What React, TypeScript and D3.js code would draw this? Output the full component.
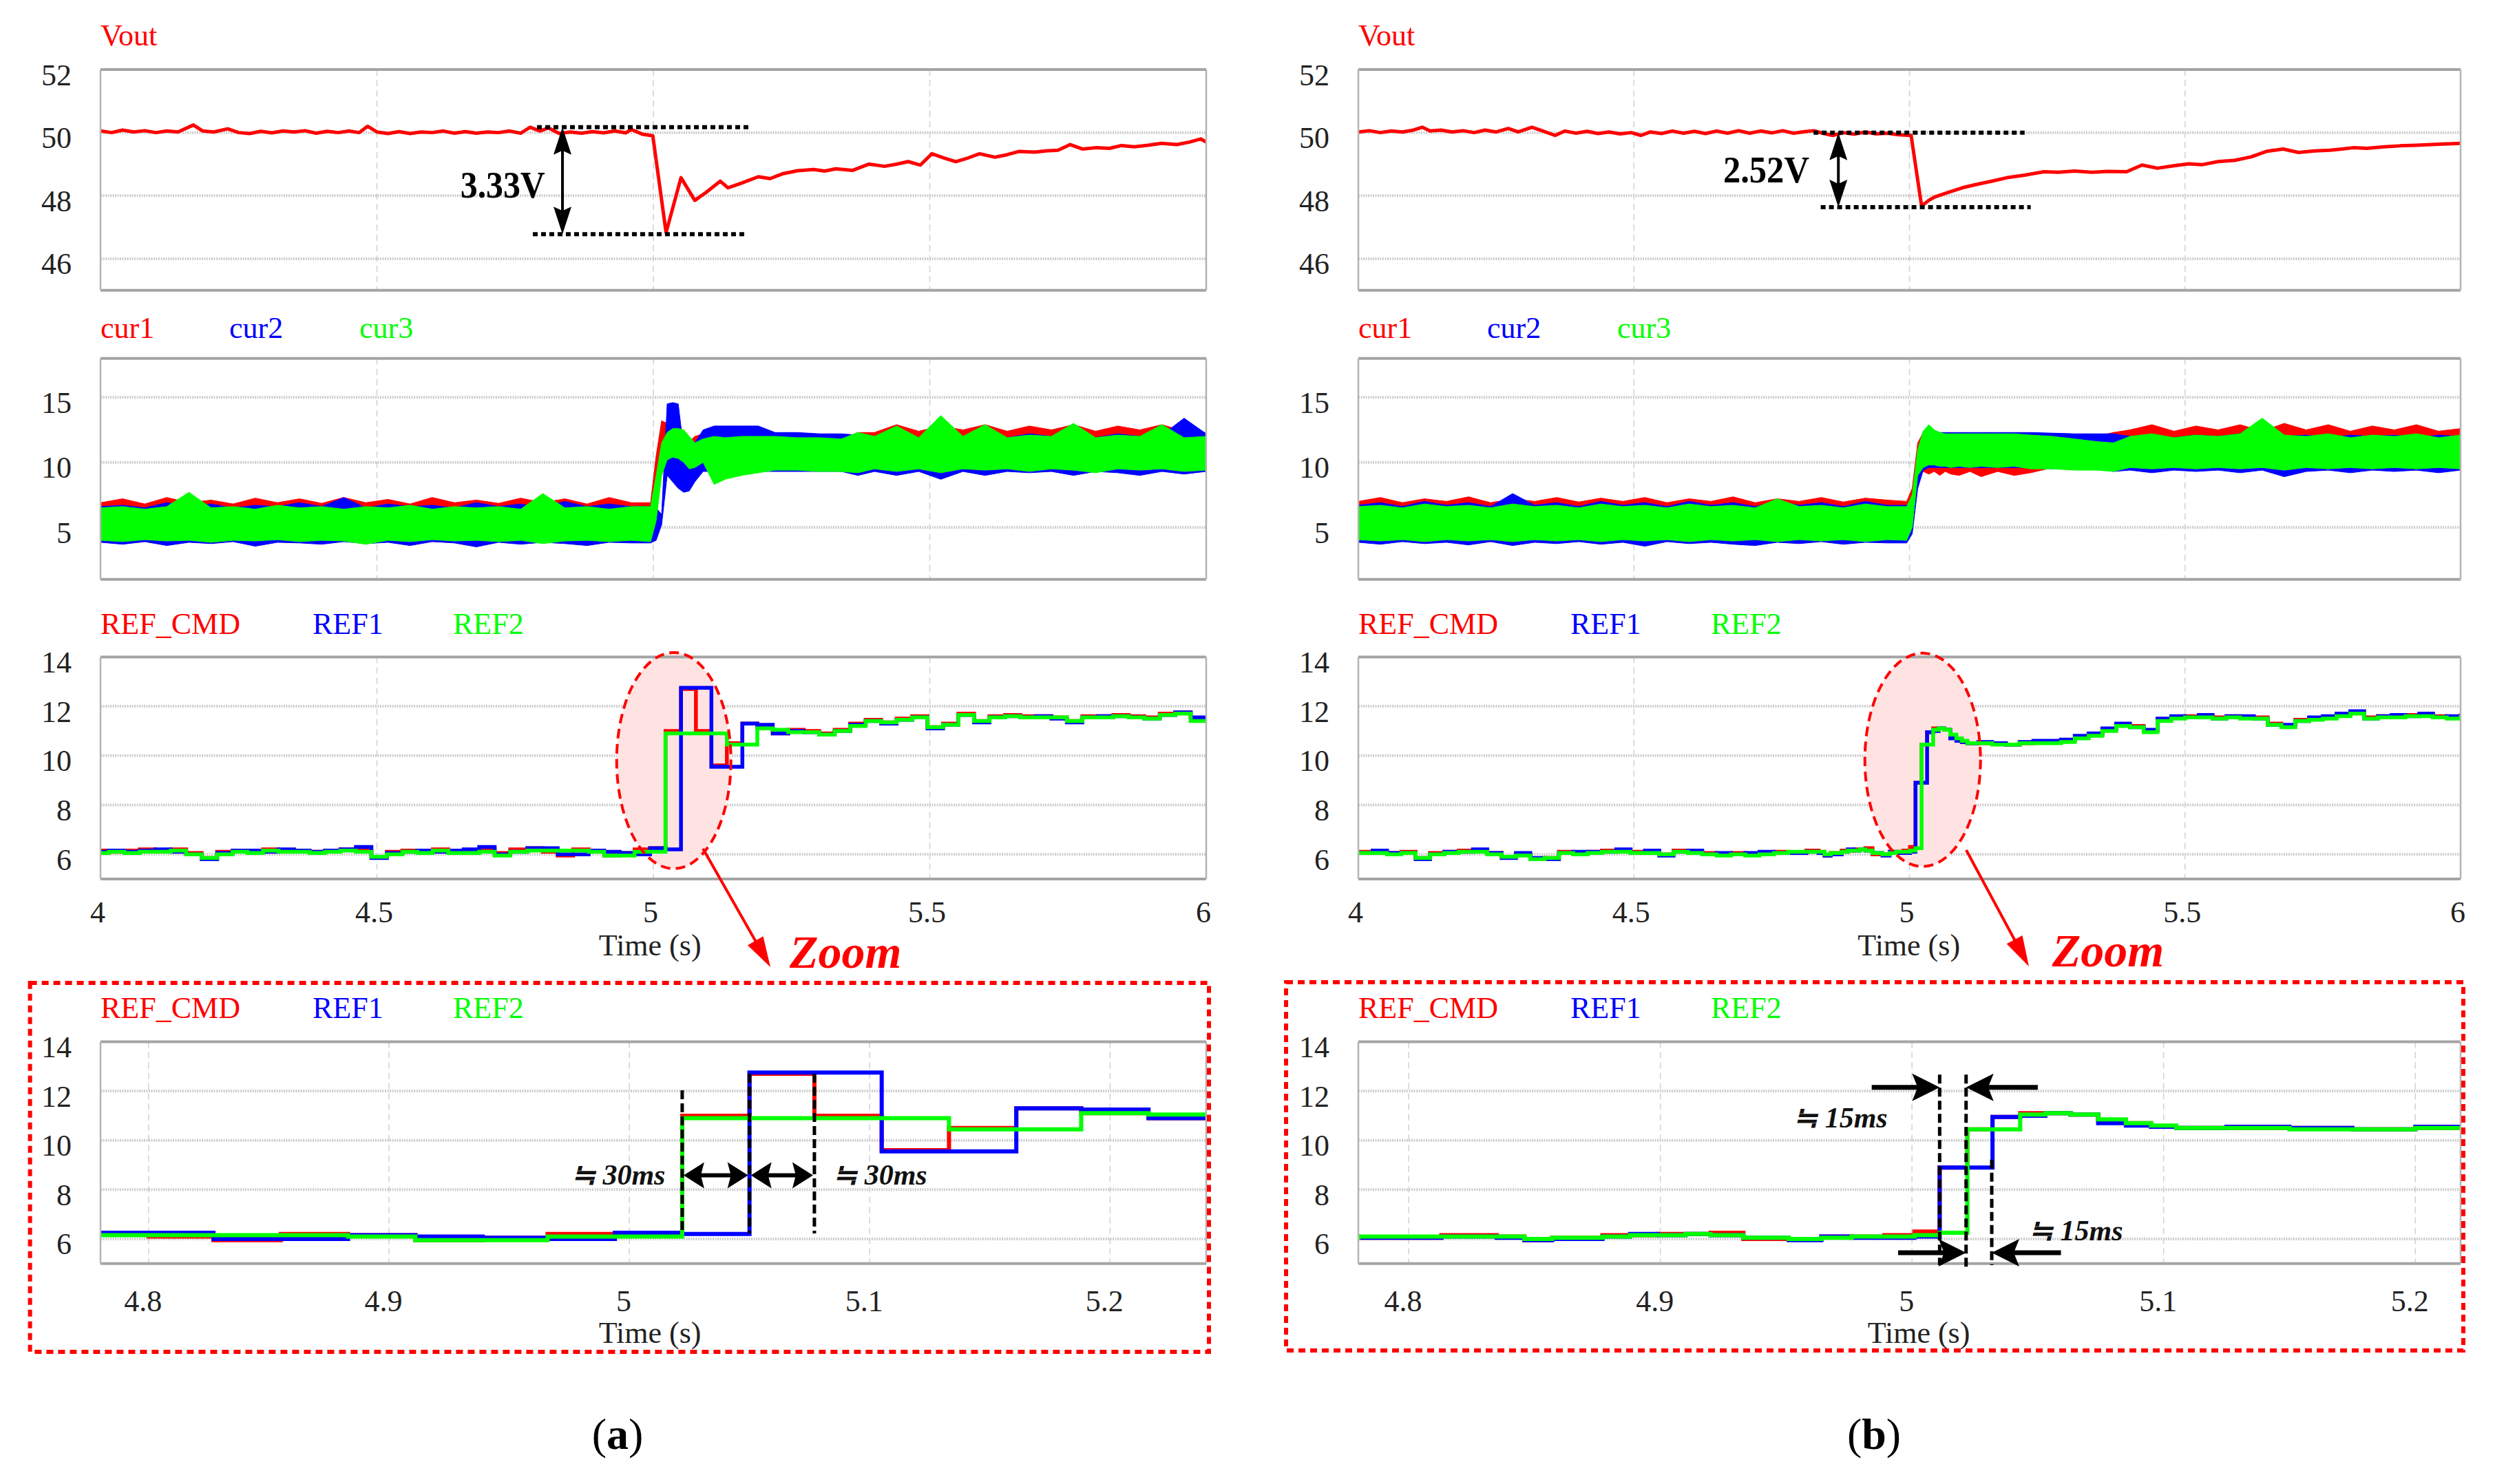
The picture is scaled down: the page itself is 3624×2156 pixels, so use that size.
import React from 'react';
import * as d3 from 'd3';

const FONT = '"Liberation Serif", "Times New Roman", Times, serif';
const RED = '#ff0000';
const BLUE = '#0000ff';
const GREEN = '#00ff00';

// ---------------- tick values ----------------
const MAIN_X_TICKS = [4, 4.5, 5, 5.5, 6];
const MAIN_X_LABELS = ['4', '4.5', '5', '5.5', '6'];
const ZOOM_X_TICKS = [4.8, 4.9, 5, 5.1, 5.2];
const ZOOM_X_LABELS = ['4.8', '4.9', '5', '5.1', '5.2'];
const VOUT_Y_TICKS = [46, 48, 50, 52];
const CUR_Y_TICKS = [5, 10, 15];
const REF_Y_TICKS = [6, 8, 10, 12, 14];

// ---------------- Vout ----------------
const VOUT_A_T = [4.000, 4.020, 4.040, 4.060, 4.080, 4.100, 4.120, 4.140, 4.168, 4.185,
  4.205, 4.230, 4.250, 4.270, 4.290, 4.310, 4.330, 4.350, 4.370, 4.390,
  4.410, 4.430, 4.450, 4.468, 4.483, 4.500, 4.520, 4.540, 4.560, 4.580,
  4.600, 4.620, 4.640, 4.660, 4.680, 4.700, 4.720, 4.740, 4.760, 4.777,
  4.795, 4.810, 4.830, 4.850, 4.870, 4.890, 4.910, 4.930, 4.950, 4.960,
  4.980, 4.999, 5.023, 5.050, 5.075, 5.095, 5.121, 5.135, 5.160, 5.190,
  5.211, 5.235, 5.261, 5.290, 5.310, 5.330, 5.360, 5.390, 5.418, 5.440,
  5.461, 5.483, 5.504, 5.525, 5.547, 5.570, 5.590, 5.618, 5.640, 5.661,
  5.690, 5.710, 5.732, 5.754, 5.776, 5.800, 5.825, 5.847, 5.870, 5.895,
  5.919, 5.947, 5.970, 5.990, 6.000];
const VOUT_A = [50.05, 50.00, 50.08, 50.02, 50.06, 50.00, 50.05, 50.02, 50.24, 50.05,
  50.02, 50.12, 50.00, 49.97, 50.04, 49.99, 50.05, 50.02, 50.06, 49.98,
  50.04, 50.00, 50.05, 50.00, 50.20, 50.02, 49.97, 50.03, 49.97, 50.02,
  50.00, 50.05, 49.98, 50.03, 49.98, 50.02, 50.00, 50.05, 49.98, 50.17,
  50.05, 50.15, 49.97, 50.02, 49.98, 50.03, 49.99, 50.05, 49.99, 50.10,
  49.95, 49.90, 46.83, 48.57, 47.85, 48.10, 48.46, 48.25, 48.40, 48.60,
  48.54, 48.70, 48.79, 48.83, 48.78, 48.85, 48.80, 49.00, 48.93, 49.00,
  49.08, 48.97, 49.33, 49.20, 49.08, 49.20, 49.33, 49.22, 49.30, 49.40,
  49.38, 49.42, 49.44, 49.62, 49.48, 49.52, 49.50, 49.59, 49.55, 49.60,
  49.66, 49.62, 49.70, 49.80, 49.70];

const VOUT_B_T = [4.000, 4.020, 4.040, 4.060, 4.080, 4.100, 4.116, 4.130, 4.150, 4.170,
  4.190, 4.210, 4.230, 4.250, 4.272, 4.290, 4.315, 4.335, 4.357, 4.375,
  4.395, 4.415, 4.435, 4.455, 4.475, 4.495, 4.513, 4.530, 4.550, 4.570,
  4.590, 4.610, 4.630, 4.650, 4.670, 4.690, 4.710, 4.730, 4.750, 4.770,
  4.790, 4.810, 4.826, 4.845, 4.861, 4.880, 4.900, 4.920, 4.940, 4.960,
  4.980, 5.003, 5.022, 5.035, 5.046, 5.070, 5.096, 5.120, 5.152, 5.180,
  5.209, 5.244, 5.270, 5.300, 5.330, 5.360, 5.394, 5.422, 5.450, 5.480,
  5.507, 5.530, 5.560, 5.590, 5.620, 5.649, 5.678, 5.706, 5.735, 5.763,
  5.785, 5.805, 5.830, 5.862, 5.890, 5.920, 5.947, 5.975, 6.000];
const VOUT_B = [50.02, 50.06, 50.00, 50.05, 50.02, 50.08, 50.17, 50.05, 50.08, 50.02,
  50.06, 50.00, 50.08, 50.02, 50.13, 50.02, 50.17, 50.05, 49.91, 50.05,
  49.98, 50.04, 49.97, 50.02, 49.96, 50.00, 49.91, 50.02, 49.97, 50.05,
  49.98, 50.04, 49.97, 50.05, 49.98, 50.06, 49.98, 50.05, 49.99, 50.06,
  49.98, 50.03, 50.06, 49.97, 49.91, 50.00, 49.95, 50.02, 49.96, 49.98,
  49.93, 49.91, 47.67, 47.85, 47.96, 48.10, 48.25, 48.35, 48.47, 48.58,
  48.65, 48.76, 48.74, 48.78, 48.74, 48.77, 48.76, 48.97, 48.87, 48.95,
  49.01, 48.98, 49.08, 49.12, 49.23, 49.41, 49.48, 49.37, 49.42, 49.44,
  49.48, 49.52, 49.50, 49.55, 49.58, 49.60, 49.62, 49.64, 49.66];

// ---------------- phase currents (ripple envelopes) ----------------
const CUR_T = [4.00, 4.04, 4.08, 4.12, 4.16, 4.20, 4.24, 4.28, 4.32, 4.36,
  4.40, 4.44, 4.48, 4.52, 4.56, 4.60, 4.64, 4.68, 4.72, 4.76,
  4.80, 4.84, 4.88, 4.92, 4.96,
  4.995, 5.005, 5.015, 5.025, 5.035, 5.045, 5.055, 5.065, 5.075,
  5.09, 5.11, 5.13, 5.16, 5.19, 5.22, 5.26, 5.30, 5.34, 5.37,
  5.40, 5.44, 5.48, 5.52, 5.56, 5.60, 5.64, 5.68, 5.72, 5.76, 5.80, 5.84, 5.88, 5.92, 5.96, 6.00];

const A_CUR1_HI = [6.9, 7.2, 6.8, 7.3, 6.9, 7.1, 6.8, 7.25, 6.9, 7.2, 6.85, 7.3, 6.9, 7.15, 6.8, 7.3, 6.9, 7.1, 6.85, 7.25, 6.9, 7.2, 6.8, 7.3, 6.9,
  6.9, 10.5, 13.2, 13.0, 12.5, 11.8, 11.5, 11.6, 12.0,
  12.2, 12.0, 11.9, 11.9, 11.9, 11.8, 11.8, 11.8, 11.8, 12.3,
  12.3, 12.9, 12.4, 12.8, 12.5, 12.9, 12.4, 12.8, 12.5, 12.9, 12.4, 12.8, 12.5, 12.9, 12.4, 12.3];
const A_CUR1_LO = [4.3, 4.2, 4.3, 4.2, 4.3, 4.2, 4.3, 4.2, 4.3, 4.2, 4.3, 4.2, 4.3, 4.2, 4.3, 4.2, 4.3, 4.2, 4.3, 4.2, 4.3, 4.2, 4.3, 4.2, 4.3,
  4.3, 6.0, 9.5, 10.0, 10.2, 10.0, 9.8, 9.5, 9.5,
  9.5, 9.6, 9.7, 9.7, 9.7, 9.7, 9.7, 9.7, 9.7, 9.7,
  9.7, 9.7, 9.7, 9.7, 9.7, 9.7, 9.7, 9.7, 9.7, 9.7, 9.7, 9.7, 9.7, 9.7, 9.7, 9.7];
const A_CUR2_HI = [6.6, 6.7, 6.5, 6.9, 6.6, 6.8, 6.5, 6.7, 6.6, 6.9, 6.6, 7.3, 6.5, 6.8, 6.6, 6.7, 6.5, 6.9, 6.6, 6.8, 6.5, 7.0, 6.6, 6.8, 6.6,
  6.6, 6.5, 6.0, 14.5, 14.6, 14.5, 11.0, 10.5, 11.5,
  12.5, 12.8, 12.8, 12.8, 12.8, 12.3, 12.3, 12.2, 12.2, 12.1,
  12.0, 12.2, 11.9, 12.2, 12.0, 12.1, 11.9, 12.2, 12.0, 12.1, 11.9, 12.2, 12.0, 12.1, 13.4, 12.2];
const A_CUR2_LO = [3.85, 3.7, 3.9, 3.6, 3.85, 3.75, 3.9, 3.55, 3.85, 3.8, 3.7, 3.9, 3.75, 3.85, 3.6, 3.9, 3.8, 3.5, 3.85, 3.7, 3.85, 3.75, 3.6, 3.85, 3.8,
  3.8, 4.0, 5.2, 9.0, 8.5, 8.0, 7.7, 7.8, 8.5,
  9.3, 9.3, 9.3, 9.3, 9.3, 9.3, 9.3, 9.3, 9.3, 9.0,
  9.3, 9.0, 9.3, 8.7, 9.3, 9.0, 9.3, 9.2, 9.3, 9.0, 9.3, 9.2, 9.0, 9.3, 9.1, 9.3];
const A_CUR3_HI = [6.5, 6.6, 6.4, 6.6, 7.7, 6.5, 6.6, 6.4, 6.7, 6.5, 6.6, 6.4, 6.6, 6.5, 6.7, 6.4, 6.6, 6.5, 6.6, 6.4, 7.6, 6.5, 6.6, 6.4, 6.6,
  6.6, 9.0, 11.5, 12.3, 12.6, 12.6, 12.5, 12.0, 11.5,
  11.8, 12.0, 11.9, 12.0, 12.0, 12.0, 11.9, 11.9, 11.8, 12.3,
  12.0, 12.8, 11.9, 13.6, 12.0, 12.9, 11.9, 12.1, 12.0, 13.0, 11.9, 12.1, 12.0, 12.9, 11.9, 12.0];
const A_CUR3_LO = [4.0, 3.9, 4.05, 3.95, 4.0, 3.85, 4.0, 3.95, 4.05, 3.9, 4.0, 3.95, 3.7, 4.0, 3.9, 4.05, 3.95, 4.0, 3.9, 4.0, 3.75, 3.95, 4.0, 3.9, 4.0,
  3.9, 5.5, 9.0, 10.2, 10.4, 10.3, 10.0, 9.5, 9.6,
  10.0, 8.3, 8.7, 9.0, 9.2, 9.4, 9.4, 9.3, 9.3, 9.2,
  9.5, 9.3, 9.5, 9.2, 9.5, 9.4, 9.5, 9.3, 9.5, 9.4, 9.2, 9.5, 9.4, 9.5, 9.3, 9.4];

const B_CUR1_HI = [7.0, 7.3, 6.9, 7.2, 7.0, 7.35, 6.9, 7.2, 7.0, 7.3, 6.95, 7.25, 7.0, 7.3, 6.9, 7.2, 7.0, 7.35, 6.9, 7.2, 7.0, 7.3, 6.95, 7.25, 7.1,
  7.0, 8.0, 11.5, 12.3, 12.5, 12.4, 12.3, 12.2, 12.2,
  12.2, 12.1, 12.1, 12.1, 12.0, 12.0, 12.0, 12.0, 12.0, 12.3,
  12.5, 12.9, 12.4, 12.8, 12.5, 12.9, 12.4, 13.0, 12.5, 12.9, 12.4, 12.8, 12.5, 12.9, 12.4, 12.6];
const B_CUR1_LO = [4.3, 4.2, 4.3, 4.2, 4.3, 4.2, 4.3, 4.2, 4.3, 4.2, 4.3, 4.2, 4.3, 4.2, 4.3, 4.2, 4.3, 4.2, 4.3, 4.2, 4.3, 4.2, 4.3, 4.2, 4.3,
  4.3, 5.0, 9.0, 9.3, 9.1, 9.3, 9.0, 9.3, 9.1,
  9.0, 9.3, 8.9, 9.3, 9.0, 9.2, 9.6, 9.6, 9.6, 9.6,
  9.7, 9.7, 9.7, 9.7, 9.7, 9.7, 9.7, 9.7, 9.7, 9.7, 9.7, 9.7, 9.7, 9.7, 9.7, 9.7];
const B_CUR2_HI = [6.7, 6.9, 6.6, 7.0, 6.7, 6.9, 6.6, 7.6, 6.7, 6.9, 6.6, 7.0, 6.7, 6.9, 6.6, 7.0, 6.7, 6.9, 6.6, 7.0, 6.7, 6.9, 6.6, 7.0, 6.7,
  6.7, 7.0, 10.0, 12.4, 12.5, 12.4, 12.3, 12.3, 12.3,
  12.3, 12.3, 12.3, 12.3, 12.3, 12.3, 12.25, 12.2, 12.2, 12.2,
  12.0, 12.1, 11.9, 12.1, 12.0, 12.2, 13.2, 12.0, 12.1, 11.9, 12.1, 12.0, 12.1, 11.9, 12.1, 12.0];
const B_CUR2_LO = [3.85, 3.7, 3.9, 3.75, 3.85, 3.65, 3.9, 3.6, 3.85, 3.75, 3.9, 3.7, 3.85, 3.55, 3.9, 3.75, 3.85, 3.7, 3.6, 3.85, 3.75, 3.9, 3.7, 3.85, 3.8,
  3.8, 4.5, 8.0, 9.4, 9.6, 9.6, 9.6, 9.6, 9.6,
  9.6, 9.6, 9.6, 9.6, 9.6, 9.6, 9.5, 9.5, 9.5, 9.3,
  9.4, 9.2, 9.4, 9.3, 9.4, 9.2, 9.4, 8.9, 9.3, 9.4, 9.2, 9.4, 9.3, 9.4, 9.2, 9.4];
const B_CUR3_HI = [6.6, 6.7, 6.5, 6.8, 6.6, 6.7, 6.5, 6.8, 6.6, 6.7, 6.5, 6.8, 6.6, 6.7, 6.5, 6.8, 6.6, 6.7, 6.5, 7.2, 6.6, 6.7, 6.5, 6.8, 6.6,
  6.6, 7.5, 11.0, 12.4, 12.9, 12.5, 12.3, 12.2, 12.2,
  12.2, 12.2, 12.2, 12.2, 12.2, 12.1, 12.0, 11.8, 11.6, 11.5,
  12.0, 12.2, 11.9, 12.1, 12.0, 12.2, 13.4, 12.1, 12.0, 12.2, 11.9, 12.1, 12.0, 12.2, 11.9, 12.1];
const B_CUR3_LO = [4.05, 3.95, 4.05, 3.9, 4.05, 3.95, 4.05, 3.9, 4.05, 3.95, 4.05, 3.9, 4.05, 3.95, 4.05, 3.9, 4.05, 3.95, 4.05, 3.9, 4.05, 3.95, 4.05, 3.9, 4.05,
  4.0, 5.0, 9.0, 9.6, 9.8, 9.8, 9.7, 9.7, 9.6,
  9.7, 9.6, 9.7, 9.6, 9.7, 9.5, 9.5, 9.4, 9.4, 9.3,
  9.6, 9.5, 9.6, 9.5, 9.6, 9.5, 9.6, 9.4, 9.6, 9.5, 9.6, 9.5, 9.6, 9.5, 9.6, 9.5];

// ---------------- current references (sampled, step) ----------------
const REF_T_A = [4.000, 4.015, 4.043, 4.071, 4.099, 4.127, 4.155, 4.183, 4.211, 4.239,
  4.266, 4.294, 4.322, 4.350, 4.378, 4.406, 4.434, 4.462, 4.490, 4.518,
  4.546, 4.573, 4.601, 4.629, 4.657, 4.685, 4.713, 4.741,
  4.772, 4.800, 4.827, 4.855, 4.883, 4.911, 4.939, 4.966, 4.994,
  5.022, 5.050, 5.077, 5.105, 5.133, 5.161, 5.188, 5.216,
  5.244, 5.272, 5.300, 5.328, 5.356, 5.384, 5.412, 5.440, 5.468, 5.496,
  5.524, 5.552, 5.580, 5.608, 5.636, 5.664, 5.692, 5.720, 5.748, 5.776,
  5.804, 5.832, 5.860, 5.888, 5.916, 5.944, 5.972, 6.000];
const A_REF_CMD = [6.15, 6.1, 6.15, 6.2, 6.15, 6.2, 6.05, 5.85, 6.1, 6.15,
  6.1, 6.2, 6.15, 6.15, 6.1, 6.15, 6.2, 6.15, 5.9, 6.1,
  6.15, 6.1, 6.2, 6.1, 6.1, 6.2, 6.05, 6.2,
  6.25, 6.1, 5.95, 6.2, 6.15, 5.95, 6.05, 6.2, 6.25,
  11.0, 12.7, 11.0, 9.6, 10.5, 11.3, 11.1, 10.9,
  11.05, 11.0, 10.9, 11.05, 11.3, 11.45, 11.35, 11.5, 11.6, 11.15,
  11.3, 11.7, 11.4, 11.6, 11.65, 11.6, 11.6, 11.55, 11.4, 11.6,
  11.6, 11.65, 11.6, 11.55, 11.7, 11.75, 11.45, 11.45];
const A_REF1 = [6.1, 6.15, 6.1, 6.15, 6.2, 6.1, 6.0, 5.8, 6.05, 6.15,
  6.15, 6.1, 6.2, 6.15, 6.1, 6.15, 6.2, 6.3, 5.85, 6.05,
  6.1, 6.15, 6.1, 6.15, 6.2, 6.3, 6.0, 6.1,
  6.25, 6.25, 6.0, 6.0, 6.15, 6.1, 6.05, 6.0, 6.25,
  6.2, 12.75, 12.75, 9.55, 9.55, 11.3, 11.25, 10.9,
  11.0, 10.95, 10.85, 11.0, 11.25, 11.4, 11.3, 11.45, 11.55, 11.1,
  11.25, 11.65, 11.35, 11.55, 11.6, 11.55, 11.6, 11.5, 11.35, 11.55,
  11.6, 11.6, 11.55, 11.5, 11.65, 11.75, 11.55, 11.55];
const A_REF2 = [6.05, 6.1, 6.05, 6.1, 6.1, 6.15, 6.0, 5.85, 6.0, 6.1,
  6.05, 6.15, 6.1, 6.1, 6.05, 6.1, 6.15, 6.1, 5.9, 6.0,
  6.1, 6.05, 6.15, 6.05, 6.05, 6.1, 5.95, 6.1,
  6.15, 6.15, 6.15, 6.15, 6.1, 5.95, 5.95, 6.1, 6.1,
  10.9, 10.9, 10.9, 10.9, 10.45, 10.45, 11.1, 11.05,
  10.95, 10.95, 10.85, 11.0, 11.2, 11.4, 11.35, 11.45, 11.55, 11.15,
  11.25, 11.65, 11.4, 11.55, 11.6, 11.55, 11.55, 11.55, 11.4, 11.55,
  11.55, 11.6, 11.55, 11.5, 11.65, 11.7, 11.4, 11.4];

const REF_T_B = [4.000, 4.026, 4.052, 4.078, 4.104, 4.130, 4.156, 4.182, 4.208, 4.234,
  4.260, 4.286, 4.312, 4.338, 4.364, 4.390, 4.416, 4.442, 4.468, 4.494,
  4.520, 4.546, 4.572, 4.598, 4.624, 4.650, 4.676, 4.702, 4.728, 4.754,
  4.780, 4.813, 4.835, 4.846, 4.857, 4.877, 4.888, 4.899, 4.910, 4.920,
  4.933, 4.951, 4.964, 4.976, 4.989, 5.001, 5.011, 5.022, 5.032, 5.043,
  5.053, 5.063, 5.074, 5.085, 5.095, 5.105, 5.125, 5.150, 5.175, 5.200,
  5.225, 5.250, 5.275, 5.300, 5.325, 5.350, 5.375, 5.400, 5.425, 5.450,
  5.475, 5.500, 5.525, 5.550, 5.575, 5.600, 5.625, 5.650, 5.675, 5.700,
  5.725, 5.750, 5.775, 5.800, 5.825, 5.850, 5.875, 5.900, 5.925, 5.950,
  5.975, 6.000];
const B_REF_CMD = [6.1, 6.1, 6.05, 6.1, 5.85, 6.05, 6.1, 6.15, 6.15, 6.05,
  5.9, 6.0, 5.8, 5.85, 6.1, 6.05, 6.1, 6.15, 6.15, 6.1,
  6.1, 6.0, 6.15, 6.1, 6.05, 6.0, 6.05, 6.0, 6.05, 6.1,
  6.05, 6.15, 6.1, 5.95, 6.05, 6.15, 6.15, 6.2, 6.2, 6.25,
  6.0, 6.0, 6.1, 6.1, 6.15, 6.3, 8.9, 10.45, 10.95, 11.1,
  11.1, 11.05, 10.8, 10.7, 10.55, 10.5, 10.5, 10.5, 10.45, 10.5,
  10.55, 10.55, 10.6, 10.75, 10.85, 11.05, 11.25, 11.2, 11.0, 11.45,
  11.55, 11.6, 11.6, 11.55, 11.6, 11.55, 11.55, 11.3, 11.2, 11.45,
  11.5, 11.55, 11.65, 11.75, 11.55, 11.6, 11.6, 11.65, 11.65, 11.6,
  11.55, 11.7];
const B_REF1 = [6.05, 6.15, 6.05, 6.05, 5.8, 6.0, 6.1, 6.1, 6.2, 6.05,
  5.85, 6.05, 5.85, 5.8, 6.05, 6.1, 6.1, 6.1, 6.2, 6.05,
  6.15, 5.95, 6.1, 6.15, 6.0, 6.05, 6.0, 6.05, 6.1, 6.05,
  6.05, 6.1, 6.05, 5.95, 6.0, 6.1, 6.2, 6.15, 6.2, 6.15,
  6.05, 5.95, 6.1, 6.05, 6.05, 6.1, 8.9, 8.9, 10.95, 11.0,
  11.1, 11.05, 10.7, 10.6, 10.55, 10.5, 10.55, 10.5, 10.45, 10.55,
  10.6, 10.6, 10.65, 10.8, 10.9, 11.1, 11.3, 11.15, 11.05, 11.5,
  11.6, 11.55, 11.65, 11.5, 11.6, 11.6, 11.5, 11.25, 11.25, 11.4,
  11.55, 11.6, 11.7, 11.8, 11.5, 11.6, 11.65, 11.6, 11.7, 11.55,
  11.6, 11.65];
const B_REF2 = [6.05, 6.05, 6.0, 6.05, 5.85, 6.0, 6.05, 6.1, 6.1, 6.0,
  5.9, 5.95, 5.8, 5.85, 6.05, 6.0, 6.05, 6.1, 6.1, 6.05,
  6.05, 6.0, 6.1, 6.05, 6.0, 5.95, 6.0, 5.95, 6.0, 6.05,
  6.1, 6.1, 6.1, 6.0, 6.05, 6.1, 6.15, 6.15, 6.2, 6.15,
  6.05, 6.0, 6.05, 6.1, 6.1, 6.15, 6.25, 10.45, 10.45, 11.05,
  11.1, 11.05, 10.85, 10.7, 10.6, 10.5, 10.5, 10.45, 10.45, 10.5,
  10.5, 10.5, 10.55, 10.7, 10.8, 11.0, 11.2, 11.15, 10.95, 11.4,
  11.5, 11.55, 11.55, 11.5, 11.55, 11.5, 11.5, 11.25, 11.15, 11.4,
  11.45, 11.5, 11.6, 11.7, 11.5, 11.55, 11.55, 11.6, 11.6, 11.55,
  11.5, 11.65];

// ---------------- per-case configuration ----------------
const CASES = [
  {
    key: 'a', x0: 146, x1: 1752, zoomDomain: [4.78, 5.24],
    box: [43.6, 1756, 1428, 1964],
    voutT: VOUT_A_T, vout: VOUT_A,
    cur: [
      { color: RED, hi: A_CUR1_HI, lo: A_CUR1_LO },
      { color: BLUE, hi: A_CUR2_HI, lo: A_CUR2_LO },
      { color: GREEN, hi: A_CUR3_HI, lo: A_CUR3_LO },
    ],
    refT: REF_T_A,
    ref: [{ color: RED, v: A_REF_CMD }, { color: BLUE, v: A_REF1 }, { color: GREEN, v: A_REF2 }],
    drop: { label: '3.33V', vTop: 50.17, vBot: 46.78, top: [4.7895, 5.1756], bot: [4.782, 5.168], arrowT: 4.8356, textT: 4.651, textV: 47.94, textLen: 123 },
    ellipse: { t: 5.037, v: 9.8, rx: 83, ry: 157 },
    pointer: { from: [5.0897, 6.23], to: [5.2117, 1.43], text: [5.2466, 1.39] },
    timeLabelT: 4.994, zoomTimeLabelT: 5.0086,
    label: 'a', labelX: 897,
  },
  {
    key: 'b', x0: 1973, x1: 3574, zoomDomain: [4.78, 5.218],
    box: [1868, 3578, 1427, 1962],
    voutT: VOUT_B_T, vout: VOUT_B,
    cur: [
      { color: RED, hi: B_CUR1_HI, lo: B_CUR1_LO },
      { color: BLUE, hi: B_CUR2_HI, lo: B_CUR2_LO },
      { color: GREEN, hi: B_CUR3_HI, lo: B_CUR3_LO },
    ],
    refT: REF_T_B,
    ref: [{ color: RED, v: B_REF_CMD }, { color: BLUE, v: B_REF1 }, { color: GREEN, v: B_REF2 }],
    drop: { label: '2.52V', vTop: 50.0, vBot: 47.635, top: [4.826, 5.209], bot: [4.839, 5.22], arrowT: 4.871, textT: 4.662, textV: 48.42, textLen: 125 },
    ellipse: { t: 5.024, v: 9.83, rx: 84, ry: 155 },
    pointer: { from: [5.103, 6.17], to: [5.2167, 1.46], text: [5.259, 1.45] },
    timeLabelT: 4.999, zoomTimeLabelT: 5.0027,
    label: 'b', labelX: 2722,
  },
];

// zoom-panel timing annotations
const ZOOM_MARKS_A = {
  lines: [{ t: 5.022, top: 12.03, bot: 6.22 }, { t: 5.050, top: 12.7, bot: 6.22 }, { t: 5.077, top: 12.7, bot: 6.22 }],
  doubleArrows: [{ t0: 5.022, t1: 5.050, v: 8.58 }, { t0: 5.050, t1: 5.077, v: 8.58 }],
  singleArrows: [],
  texts: [{ s: '≒ 30ms', t: 5.015, v: 8.2, anchor: 'end' }, { s: '≒ 30ms', t: 5.0848, v: 8.2, anchor: 'start' }],
};
const ZOOM_MARKS_B = {
  lines: [{ t: 5.011, top: 12.67, bot: 4.94 }, { t: 5.0215, top: 12.67, bot: 4.83 }, { t: 5.0317, top: 9.22, bot: 4.94 }],
  doubleArrows: [],
  singleArrows: [
    { from: 4.984, to: 5.011, v: 12.15 }, { from: 5.050, to: 5.0215, v: 12.15 },
    { from: 4.9945, to: 5.0215, v: 5.44 }, { from: 5.0592, to: 5.0317, v: 5.44 },
  ],
  texts: [{ s: '≒ 15ms', t: 4.9903, v: 10.52, anchor: 'end' }, { s: '≒ 15ms', t: 5.0465, v: 5.94, anchor: 'start' }],
};

// ---------------- helpers ----------------
function head(tx: number, ty: number, ux: number, uy: number, len: number, half: number, notch = 0) {
  const bx = tx - ux * len, by = ty - uy * len;
  const px = -uy, py = ux;
  const nx = bx + ux * notch, ny = by + uy * notch;
  return `M${tx},${ty}L${bx + px * half},${by + py * half}L${nx},${ny}L${bx - px * half},${by - py * half}Z`;
}

function Panel({ id, x, y, hGrid, vGrid, yTicks, children, under }: any) {
  const [x0, x1] = x.range();
  const [yb, yt] = y.range();
  return (
    <g>
      <defs>
        <clipPath id={id}><rect x={x0} y={yt} width={x1 - x0} height={yb - yt} /></clipPath>
      </defs>
      {vGrid.map((v: number) => (
        <line key={'v' + v} x1={x(v)} x2={x(v)} y1={yt} y2={yb} stroke="#d4d4d4" strokeWidth={1.6} strokeDasharray="9 6" />
      ))}
      {hGrid.map((v: number) => (
        <line key={'h' + v} x1={x0} x2={x1} y1={y(v)} y2={y(v)} stroke="#cdcdcd" strokeWidth={4} strokeDasharray="2 1.5" />
      ))}
      {under}
      <g clipPath={`url(#${id})`}>{children}</g>
      <line x1={x0} x2={x1} y1={yt} y2={yt} stroke="#a4a4a4" strokeWidth={4} />
      <line x1={x0} x2={x1} y1={yb} y2={yb} stroke="#a4a4a4" strokeWidth={4} />
      <line x1={x0} x2={x0} y1={yt} y2={yb} stroke="#b4b4b4" strokeWidth={2.5} />
      <line x1={x1} x2={x1} y1={yt} y2={yb} stroke="#b4b4b4" strokeWidth={2.5} />
      {yTicks.map((v: number) => (
        <text key={'t' + v} x={x0 - 42} y={y(v) + 8} textAnchor="end" dominantBaseline="central" fontSize={44} fill="#222">{v}</text>
      ))}
    </g>
  );
}

function Legend({ x0, y, items }: any) {
  return (
    <g>
      {items.map((it: any) => (
        <text key={it.label} x={x0 + it.dx} y={y} dominantBaseline="central" fontSize={44} fill={it.color}>{it.label}</text>
      ))}
    </g>
  );
}

const CUR_LEGEND = [{ label: 'cur1', color: RED, dx: 0 }, { label: 'cur2', color: BLUE, dx: 187 }, { label: 'cur3', color: GREEN, dx: 376 }];
const REF_LEGEND = [{ label: 'REF_CMD', color: RED, dx: 0 }, { label: 'REF1', color: BLUE, dx: 308 }, { label: 'REF2', color: GREEN, dx: 512 }];

function Column({ c }: any) {
  const xMain = d3.scaleLinear().domain([4, 6]).range([c.x0, c.x1]);
  const xZoom = d3.scaleLinear().domain(c.zoomDomain).range([c.x0, c.x1]);
  const yV = d3.scaleLinear().domain([45, 52]).range([421.7, 101]);
  const yC = d3.scaleLinear().domain([1, 18]).range([841.7, 520.7]);
  const yR = d3.scaleLinear().domain([5, 14]).range([1277, 954.4]);
  const yZ = d3.scaleLinear().domain([5, 14]).range([1835.8, 1513.5]);

  const voutPath = d3.line<number>().x((_, i) => xMain(c.voutT[i])).y(d => yV(d))(c.vout) as string;
  const curPaths = c.cur.map((s: any) => ({
    color: s.color,
    d: d3.area<number>().x((_, i) => xMain(CUR_T[i])).y0((_, i) => yC(s.lo[i])).y1(d => yC(d))(s.hi) as string,
  }));
  const refPath = (xs: any, ys: any, vals: number[]) =>
    d3.line<number>().x((_, i) => xs(c.refT[i])).y(d => ys(d)).curve(d3.curveStepAfter)(vals) as string;

  const dr = c.drop;
  const ax = xMain(dr.arrowT);
  const aTop = yV(dr.vTop), aBot = yV(dr.vBot);
  const el = c.ellipse;
  const ex = xMain(el.t), ey = yR(el.v);
  const p0 = [xMain(c.pointer.from[0]), yR(c.pointer.from[1])];
  const p1 = [xMain(c.pointer.to[0]), yR(c.pointer.to[1])];
  const plen = Math.hypot(p1[0] - p0[0], p1[1] - p0[1]);
  const pu = [(p1[0] - p0[0]) / plen, (p1[1] - p0[1]) / plen];
  const marks = c.key === 'a' ? ZOOM_MARKS_A : ZOOM_MARKS_B;

  return (
    <g>
      {/* ---- Vout ---- */}
      <Legend x0={c.x0} y={51} items={[{ label: 'Vout', color: RED, dx: 0 }]} />
      <Panel id={'clipV' + c.key} x={xMain} y={yV} hGrid={[46, 48, 50]} vGrid={[4.5, 5, 5.5]} yTicks={VOUT_Y_TICKS}>
        <path d={voutPath} fill="none" stroke={RED} strokeWidth={5} strokeLinejoin="round" />
      </Panel>
      <line x1={xMain(dr.top[0])} x2={xMain(dr.top[1])} y1={aTop} y2={aTop} stroke="#000" strokeWidth={6} strokeDasharray="7 5" />
      <line x1={xMain(dr.bot[0])} x2={xMain(dr.bot[1])} y1={aBot} y2={aBot} stroke="#000" strokeWidth={6} strokeDasharray="7 5" />
      <line x1={ax} x2={ax} y1={aTop + 30} y2={aBot - 30} stroke="#000" strokeWidth={4} />
      <path d={head(ax, aTop, 0, -1, 40, 13, 6)} fill="#000" />
      <path d={head(ax, aBot, 0, 1, 40, 13, 6)} fill="#000" />
      <text x={xMain(dr.textT)} y={yV(dr.textV)} fontSize={54} fontWeight="bold" fill="#000" textLength={dr.textLen} lengthAdjust="spacingAndGlyphs">{dr.label}</text>

      {/* ---- currents ---- */}
      <Legend x0={c.x0} y={476} items={CUR_LEGEND} />
      <Panel id={'clipC' + c.key} x={xMain} y={yC} hGrid={[5, 10, 15]} vGrid={[4.5, 5, 5.5]} yTicks={CUR_Y_TICKS}>
        {curPaths.map((p: any) => <path key={p.color} d={p.d} fill={p.color} stroke={p.color} strokeWidth={1} strokeLinejoin="round" />)}
      </Panel>

      {/* ---- references ---- */}
      <Legend x0={c.x0} y={906} items={REF_LEGEND} />
      <Panel id={'clipR' + c.key} x={xMain} y={yR} hGrid={[6, 8, 10, 12]} vGrid={[4.5, 5, 5.5]} yTicks={REF_Y_TICKS}
        under={<ellipse cx={ex} cy={ey} rx={el.rx} ry={el.ry} fill="#ffe3e3" />}>
        {c.ref.map((s: any) => <path key={s.color} d={refPath(xMain, yR, s.v)} fill="none" stroke={s.color} strokeWidth={5.5} />)}
      </Panel>
      <ellipse cx={ex} cy={ey} rx={el.rx} ry={el.ry} fill="none" stroke={RED} strokeWidth={4} strokeDasharray="14 8" />
      {MAIN_X_TICKS.map((t, i) => (
        <text key={'mx' + t} x={xMain(t) - 4} y={1325} textAnchor="middle" dominantBaseline="central" fontSize={44} fill="#222">{MAIN_X_LABELS[i]}</text>
      ))}
      <text x={xMain(c.timeLabelT)} y={1373} textAnchor="middle" dominantBaseline="central" fontSize={44} fill="#222">Time (s)</text>
      <line x1={p0[0]} y1={p0[1]} x2={p1[0] - pu[0] * 30} y2={p1[1] - pu[1] * 30} stroke={RED} strokeWidth={4} />
      <path d={head(p1[0], p1[1], pu[0], pu[1], 44, 13, 0)} fill={RED} />
      <text x={xMain(c.pointer.text[0])} y={yR(c.pointer.text[1])} fontSize={68} fontWeight="bold" fontStyle="italic" fill={RED}>Zoom</text>

      {/* ---- zoom panel ---- */}
      <Legend x0={c.x0} y={1464} items={REF_LEGEND} />
      <Panel id={'clipZ' + c.key} x={xZoom} y={yZ} hGrid={[6, 8, 10, 12]} vGrid={ZOOM_X_TICKS} yTicks={REF_Y_TICKS}>
        {c.ref.map((s: any) => <path key={s.color} d={refPath(xZoom, yZ, s.v)} fill="none" stroke={s.color} strokeWidth={6} />)}
      </Panel>
      {ZOOM_X_TICKS.map((t, i) => (
        <text key={'zx' + t} x={xZoom(t) - 8} y={1890} textAnchor="middle" dominantBaseline="central" fontSize={44} fill="#222">{ZOOM_X_LABELS[i]}</text>
      ))}
      <text x={xZoom(c.zoomTimeLabelT)} y={1936} textAnchor="middle" dominantBaseline="central" fontSize={44} fill="#222">Time (s)</text>

      {marks.lines.map((m: any, i: number) => (
        <line key={'ml' + i} x1={xZoom(m.t)} x2={xZoom(m.t)} y1={yZ(m.top)} y2={yZ(m.bot)} stroke="#000" strokeWidth={5} strokeDasharray="13 6" />
      ))}
      {marks.doubleArrows.map((m: any, i: number) => {
        const xa = xZoom(m.t0), xb = xZoom(m.t1), yy = yZ(m.v);
        return (
          <g key={'da' + i}>
            <line x1={xa + 20} x2={xb - 20} y1={yy} y2={yy} stroke="#000" strokeWidth={6} />
            <path d={head(xa + 2, yy, -1, 0, 30, 19, 5)} fill="#000" />
            <path d={head(xb - 2, yy, 1, 0, 30, 19, 5)} fill="#000" />
          </g>
        );
      })}
      {marks.singleArrows.map((m: any, i: number) => {
        const xa = xZoom(m.from), xb = xZoom(m.to), yy = yZ(m.v);
        const dir = Math.sign(xb - xa);
        return (
          <g key={'sa' + i}>
            <line x1={xa} x2={xb - dir * 25} y1={yy} y2={yy} stroke="#000" strokeWidth={7} />
            <path d={head(xb, yy, dir, 0, 40, 20, 8)} fill="#000" />
          </g>
        );
      })}
      {marks.texts.map((m: any, i: number) => (
        <text key={'mt' + i} x={xZoom(m.t)} y={yZ(m.v)} textAnchor={m.anchor} fontSize={42} fontStyle="italic" fontWeight="bold" fill="#111">{m.s}</text>
      ))}

      <rect x={c.box[0]} y={c.box[2]} width={c.box[1] - c.box[0]} height={c.box[3] - c.box[2]} fill="none" stroke={RED} strokeWidth={6} strokeDasharray="10 7" />

      <text x={c.labelX} y={2105} textAnchor="middle" fontSize={64} fill="#000">(<tspan fontWeight="bold">{c.label}</tspan>)</text>
    </g>
  );
}

export default function App() {
  return (
    <svg width={3624} height={2156} viewBox="0 0 3624 2156" style={{ position: 'absolute', left: 0, top: 0, background: '#fff' }} fontFamily={FONT}>
      <rect x={0} y={0} width={3624} height={2156} fill="#fff" />
      {CASES.map(c => <Column key={c.key} c={c} />)}
    </svg>
  );
}
